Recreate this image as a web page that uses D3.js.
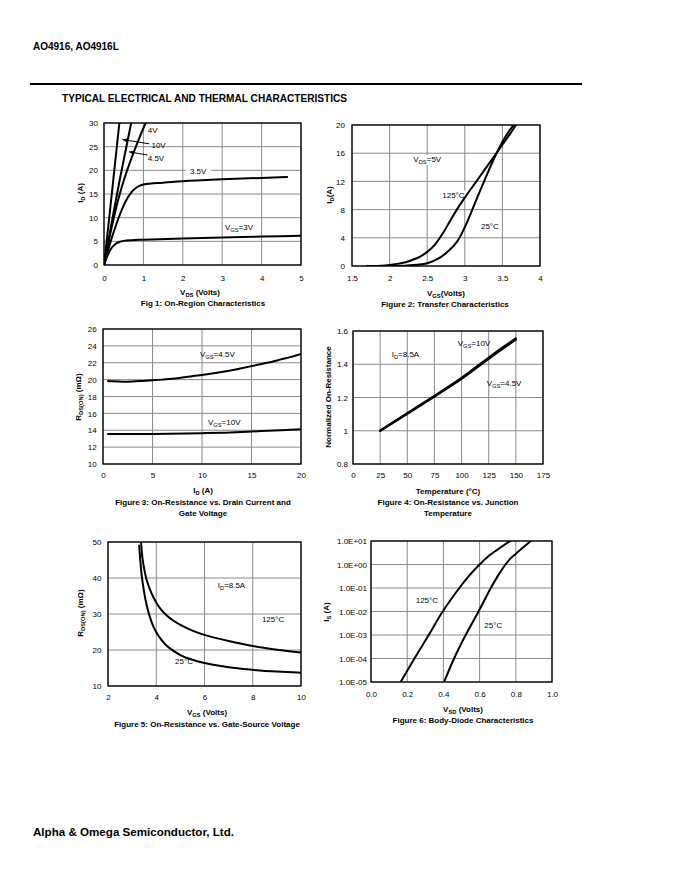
<!DOCTYPE html>
<html>
<head>
<meta charset="utf-8">
<script src="https://cdn.jsdelivr.net/npm/d3@7"></script>
<style>
  html, body { margin: 0; padding: 0; background: #fff; }
  svg { display: block; }
  text { font-family: "Liberation Sans", Arial, sans-serif; fill: #000; }
</style>
</head>
<body>
<svg id="page" width="680" height="880"></svg>
<script>
// ---------------- DATA ----------------
// Fig 1: On-region characteristics (VDS [V], ID [A])
const fig1_vgs10  = [[0,0],[0.1,7.5],[0.2,15.2],[0.3,23],[0.39,30]];
const fig1_vgs45  = [[0,0],[0.1,4.6],[0.2,9.2],[0.3,13.6],[0.4,18],[0.5,22.2],[0.6,26.3],[0.69,30]];
const fig1_vgs4   = [[0,0],[0.1,4.2],[0.2,8.2],[0.3,11.8],[0.4,15],[0.5,17.8],[0.6,20.3],[0.7,22.6],[0.8,24.8],[0.9,26.9],[1.0,28.9],[1.06,30]];
const fig1_vgs35  = [[0,0],[0.1,3],[0.2,5.8],[0.3,8.3],[0.4,10.6],[0.5,12.6],[0.6,14.2],[0.7,15.4],[0.8,16.2],[0.9,16.7],[1.0,17.0],[1.5,17.4],[2,17.7],[3,18.1],[4,18.4],[4.65,18.6]];
const fig1_vgs3   = [[0,0],[0.1,2.2],[0.2,3.7],[0.3,4.5],[0.4,4.9],[0.5,5.1],[0.7,5.25],[1,5.35],[2,5.6],[3,5.8],[4,6.0],[5,6.2]];
const fig1_xTicks = [0,1,2,3,4,5];
const fig1_yTicks = [0,5,10,15,20,25,30];

// Fig 2: Transfer characteristics (VGS [V], ID [A])
const fig2_t125 = [[1.7,0],[1.9,0.05],[2.0,0.15],[2.1,0.3],[2.2,0.5],[2.3,0.85],[2.4,1.3],[2.5,2.0],[2.6,3.0],[2.7,4.5],[2.8,6.3],[2.9,8.1],[3.0,9.7],[3.1,11.2],[3.2,12.7],[3.3,14.2],[3.4,15.7],[3.5,17.2],[3.6,18.7],[3.68,20]];
const fig2_t25  = [[2.0,0],[2.2,0.05],[2.4,0.2],[2.5,0.4],[2.6,0.8],[2.7,1.4],[2.8,2.3],[2.9,3.5],[3.0,5.5],[3.1,8.0],[3.2,10.6],[3.3,13.1],[3.4,15.5],[3.5,17.6],[3.6,19.3],[3.65,20]];
const fig2_xTicks = [1.5,2,2.5,3,3.5,4];
const fig2_yTicks = [0,4,8,12,16,20];

// Fig 3: On-resistance vs drain current (ID [A], RDS(ON) [mOhm])
const fig3_vgs45 = [[0.5,19.85],[1,19.8],[2,19.75],[3,19.78],[4,19.85],[5,19.92],[6,20.0],[7,20.1],[8,20.25],[9,20.4],[10,20.55],[11,20.72],[12,20.9],[13,21.1],[14,21.35],[15,21.6],[16,21.85],[17,22.1],[18,22.4],[19,22.7],[20,23.05]];
const fig3_vgs10 = [[0.5,13.55],[5,13.57],[10,13.65],[12,13.7],[15,13.85],[18,14.0],[20,14.12]];
const fig3_xTicks = [0,5,10,15,20];
const fig3_yTicks = [10,12,14,16,18,20,22,24,26];

// Fig 4: Normalized on-resistance vs temperature
const fig4_vgs10 = [[25,1.0],[50,1.105],[75,1.21],[100,1.318],[125,1.44],[150,1.556]];
const fig4_vgs45 = [[25,1.0],[50,1.102],[75,1.206],[100,1.312],[125,1.433],[150,1.548]];
const fig4_xTicks = [0,25,50,75,100,125,150,175];
const fig4_yTicks = [0.8,1,1.2,1.4,1.6];

// Fig 5: On-resistance vs gate-source voltage (VGS [V], RDS(ON) [mOhm])
const fig5_t25  = [[3.29,49],[3.35,44],[3.4,40.5],[3.5,36],[3.6,32.5],[3.8,27.9],[4.0,24.9],[4.25,22.5],[4.5,20.8],[5,18.6],[5.5,17.3],[6,16.4],[7,15.2],[8,14.5],[9,14.0],[10,13.7]];
const fig5_t125 = [[3.37,50],[3.42,46],[3.5,42.5],[3.6,39.5],[3.8,35.8],[4.0,33.2],[4.2,31.2],[4.4,29.8],[4.7,28.2],[5,27.0],[5.5,25.4],[6,24.2],[7,22.5],[8,21.1],[9,20.1],[10,19.3]];
const fig5_xTicks = [2,4,6,8,10];
const fig5_yTicks = [10,20,30,40,50];

// Fig 6: Body-diode characteristics (VSD [V], IS [A])
const fig6_t125 = [[0.164,1e-5],[0.24,1e-4],[0.319,1e-3],[0.396,1e-2],[0.488,1e-1],[0.545,0.355],[0.6,1.0],[0.65,2.3],[0.7,4.37],[0.769,10]];
const fig6_t25  = [[0.404,1e-5],[0.459,1e-4],[0.523,1e-3],[0.594,1e-2],[0.662,1e-1],[0.7,0.32],[0.741,0.95],[0.77,1.78],[0.8,2.82],[0.84,5.25],[0.883,10]];
const fig6_xTicks = [0,0.2,0.4,0.6,0.8,1.0];
const fig6_yTicks = [1e-5,1e-4,1e-3,1e-2,1e-1,1e0,1e1];
const fig6_yLabels = ["1.0E-05","1.0E-04","1.0E-03","1.0E-02","1.0E-01","1.0E+00","1.0E+01"];

// ---------------- DRAWING ----------------
const svg = d3.select("#page");

function richText(g, x, y, parts, opts = {}) {
  const t = g.append("text")
    .attr("x", x).attr("y", y)
    .attr("font-size", opts.size || 8)
    .attr("font-weight", opts.bold ? "bold" : "normal")
    .attr("text-anchor", opts.anchor || "start");
  if (opts.rotate) t.attr("transform", `rotate(-90,${x},${y})`);
  let inSub = false;
  parts.forEach(p => {
    const sub = typeof p !== "string";
    const s = sub ? p.sub : p;
    const ts = t.append("tspan").text(s);
    if (sub && !inSub) { ts.attr("dy", 2).attr("font-size", (opts.size || 8) * 0.72); inSub = true; }
    else if (sub) { ts.attr("font-size", (opts.size || 8) * 0.72); }
    else if (!sub && inSub) { ts.attr("dy", -2); inSub = false; }
  });
  return t;
}

function whiteBg(g, textSel, pad) {
  const b = textSel.node().getBBox();
  g.insert("rect", () => textSel.node())
    .attr("x", b.x - pad).attr("y", b.y)
    .attr("width", b.width + 2 * pad).attr("height", b.height)
    .attr("fill", "#fff");
}

function chart(cfg) {
  const g = svg.append("g");
  const x = d3.scaleLinear().domain(cfg.xDom).range([cfg.L, cfg.R]);
  const y = (cfg.log ? d3.scaleLog() : d3.scaleLinear()).domain(cfg.yDom).range([cfg.B, cfg.T]);
  const gridG = g.append("g");
  gridG.selectAll(".vx").data(cfg.xTicks).join("line")
    .attr("x1", d => x(d)).attr("x2", d => x(d))
    .attr("y1", cfg.T).attr("y2", cfg.B)
    .attr("stroke", "#8a8a8a").attr("stroke-width", 1);
  gridG.selectAll(".hy").data(cfg.yTicks).join("line")
    .attr("y1", d => y(d)).attr("y2", d => y(d))
    .attr("x1", cfg.L).attr("x2", cfg.R)
    .attr("stroke", "#8a8a8a").attr("stroke-width", 1);
  const xa = d3.axisBottom(x).tickValues(cfg.xTicks).tickSize(0).tickPadding(0)
    .tickFormat(cfg.xFmt || (d => d));
  const xg = g.append("g").attr("transform", `translate(0,${cfg.B + cfg.xTickOff})`).call(xa);
  xg.select(".domain").remove();
  xg.selectAll("text").attr("font-size", 8).attr("dy", 0).attr("y", 0)
    .style("font-family", '"Liberation Sans", Arial, sans-serif').attr("fill", "#000");
  const ya = d3.axisLeft(y).tickValues(cfg.yTicks).tickSize(0).tickPadding(0)
    .tickFormat(cfg.yFmt || (d => d));
  const yg = g.append("g").attr("transform", `translate(${cfg.L - cfg.yTickOff},0)`).call(ya);
  yg.select(".domain").remove();
  yg.selectAll("text").attr("font-size", cfg.yTickSize || 8).attr("x", 0).attr("dy", "0.33em")
    .style("font-family", '"Liberation Sans", Arial, sans-serif').attr("fill", "#000");
  g.selectAll(".tick line").remove();

  const cid = "clip" + Math.random().toString(36).slice(2);
  g.append("clipPath").attr("id", cid).append("rect")
    .attr("x", cfg.L).attr("y", cfg.T).attr("width", cfg.R - cfg.L).attr("height", cfg.B - cfg.T);
  const line = d3.line().x(d => x(d[0])).y(d => y(d[1])).curve(d3.curveMonotoneX);
  const lineN = d3.line().x(d => x(d[0])).y(d => y(d[1])).curve(d3.curveCatmullRom.alpha(0.5));
  const labG = g.append("g");
  const cg = g.append("g").attr("clip-path", `url(#${cid})`);
  cfg.series.forEach(s => {
    cg.append("path").datum(s.data)
      .attr("d", s.mono === false ? lineN(s.data) : line(s.data))
      .attr("fill", "none").attr("stroke", "#000")
      .attr("stroke-width", s.w || 2).attr("stroke-linejoin", "round").attr("stroke-linecap", "round");
  });
  g.append("rect").attr("x", cfg.L).attr("y", cfg.T)
    .attr("width", cfg.R - cfg.L).attr("height", cfg.B - cfg.T)
    .attr("fill", "none").attr("stroke", "#000").attr("stroke-width", 1.3);

  (cfg.labels || []).forEach(l => {
    const t = richText(labG, x(l.x), y(l.y), l.parts, { size: 8, anchor: l.anchor || "start" });
    if (l.bg) whiteBg(labG, t, l.bg);
  });
  (cfg.arrows || []).forEach(a => {
    g.append("line")
      .attr("x1", x(a.from[0])).attr("y1", y(a.from[1]))
      .attr("x2", x(a.to[0])).attr("y2", y(a.to[1]))
      .attr("stroke", "#000").attr("stroke-width", 1).attr("marker-end", "url(#arrowHead)");
  });

  richText(g, cfg.xt[0], cfg.xt[1], cfg.xTitle, { size: 8, bold: true, anchor: "middle" });
  richText(g, cfg.yt[0], cfg.yt[1], cfg.yTitle, { size: 8, bold: true, anchor: "middle", rotate: true });
  cfg.caption.forEach((c, i) => {
    richText(g, cfg.cap[0], cfg.cap[1] + i * 11, [c], { size: 8, bold: true, anchor: "middle" });
  });
  return { x, y };
}

svg.append("defs").append("marker").attr("id", "arrowHead")
  .attr("viewBox", "0 0 10 10").attr("refX", 9).attr("refY", 5)
  .attr("markerWidth", 5).attr("markerHeight", 5).attr("orient", "auto")
  .append("path").attr("d", "M0,1 L10,5 L0,9 Z").attr("fill", "#000");

// header / footer
svg.append("text").attr("x", 33).attr("y", 50).attr("font-size", 10).attr("font-weight", "bold")
  .text("AO4916, AO4916L");
svg.append("line").attr("x1", 30).attr("x2", 582).attr("y1", 84).attr("y2", 84)
  .attr("stroke", "#000").attr("stroke-width", 2);
svg.append("text").attr("x", 62).attr("y", 102).attr("font-size", 10.1).attr("font-weight", "bold")
  .text("TYPICAL ELECTRICAL AND THERMAL CHARACTERISTICS");
svg.append("text").attr("x", 33).attr("y", 836).attr("font-size", 11.6).attr("font-weight", "bold")
  .text("Alpha & Omega Semiconductor, Ltd.");

// Fig 1
chart({
  L: 104, R: 301, T: 123, B: 265, xDom: [0, 5], yDom: [0, 30],
  xTicks: fig1_xTicks, yTicks: fig1_yTicks, xTickOff: 16, yTickOff: 6,
  series: [
    { data: fig1_vgs10, mono: false }, { data: fig1_vgs45, mono: false }, { data: fig1_vgs4, mono: false },
    { data: fig1_vgs35 }, { data: fig1_vgs3 }
  ],
  labels: [
    { x: 1.11, y: 27.8, parts: ["4V"], bg: 1 },
    { x: 1.205, y: 24.8, parts: ["10V"] },
    { x: 1.11, y: 21.9, parts: ["4.5V"] },
    { x: 2.39, y: 19.3, parts: ["3.5V"], anchor: "middle", bg: 4 },
    { x: 3.07, y: 7.4, parts: ["V", { sub: "GS" }, "=3V"] }
  ],
  arrows: [
    { from: [1.15, 25.6], to: [0.47, 26.5] },
    { from: [1.10, 23.24], to: [0.64, 23.9] }
  ],
  xt: [200, 294.5], xTitle: ["V", { sub: "DS" }, " (Volts)"],
  yt: [83, 193], yTitle: ["I", { sub: "D" }, " (A)"],
  cap: [203, 305.5], caption: ["Fig 1: On-Region Characteristics"]
});

// Fig 2
chart({
  L: 352, R: 540, T: 125, B: 266, xDom: [1.5, 4], yDom: [0, 20],
  xTicks: fig2_xTicks, yTicks: fig2_yTicks, xTickOff: 14.5, yTickOff: 7,
  series: [{ data: fig2_t125, mono: false }, { data: fig2_t25, mono: false }],
  labels: [
    { x: 2.316, y: 14.75, parts: ["V", { sub: "DS" }, "=5V"], bg: 3 },
    { x: 2.70, y: 9.65, parts: ["125°C"], bg: 1 },
    { x: 3.215, y: 5.3, parts: ["25°C"] }
  ],
  xt: [446, 295.5], xTitle: ["V", { sub: "GS" }, "(Volts)"],
  yt: [332, 195], yTitle: ["I", { sub: "D" }, "(A)"],
  cap: [445, 306.5], caption: ["Figure 2: Transfer Characteristics"]
});

// Fig 3
chart({
  L: 103, R: 301, T: 329, B: 464, xDom: [0, 20], yDom: [10, 26],
  xTicks: fig3_xTicks, yTicks: fig3_yTicks, xTickOff: 14, yTickOff: 6.3,
  series: [{ data: fig3_vgs45 }, { data: fig3_vgs10 }],
  labels: [
    { x: 9.8, y: 22.7, parts: ["V", { sub: "GS" }, "=4.5V"] },
    { x: 10.6, y: 14.66, parts: ["V", { sub: "GS" }, "=10V"] }
  ],
  xt: [203, 493], xTitle: ["I", { sub: "D" }, " (A)"],
  yt: [81, 397], yTitle: ["R", { sub: "DS(ON)" }, " (mΩ)"],
  cap: [203, 504.5], caption: ["Figure 3: On-Resistance vs. Drain Current and", "Gate Voltage"]
});

// Fig 4
chart({
  L: 353, R: 543, T: 331, B: 464, xDom: [0, 175], yDom: [0.8, 1.6],
  xTicks: fig4_xTicks, yTicks: fig4_yTicks, xTickOff: 14, yTickOff: 5,
  yFmt: d3.format("~g"),
  series: [{ data: fig4_vgs10, w: 2.2 }, { data: fig4_vgs45, w: 2.2 }],
  labels: [
    { x: 35.6, y: 1.444, parts: ["I", { sub: "D" }, "=8.5A"] },
    { x: 96.4, y: 1.512, parts: ["V", { sub: "GS" }, "=10V"] },
    { x: 123.1, y: 1.267, parts: ["V", { sub: "GS" }, "=4.5V"] }
  ],
  xt: [448, 493.5], xTitle: ["Temperature (°C)"],
  yt: [331, 397], yTitle: ["Normalized On-Resistance"],
  cap: [448, 504.5], caption: ["Figure 4: On-Resistance vs. Junction", "Temperature"]
});

// Fig 5
chart({
  L: 108, R: 301, T: 542, B: 686, xDom: [2, 10], yDom: [10, 50],
  xTicks: fig5_xTicks, yTicks: fig5_yTicks, xTickOff: 14, yTickOff: 6.6,
  series: [{ data: fig5_t25, mono: false }, { data: fig5_t125, mono: false }],
  labels: [
    { x: 6.547, y: 37.2, parts: ["I", { sub: "D" }, "=8.5A"] },
    { x: 8.38, y: 27.7, parts: ["125°C"] },
    { x: 4.78, y: 16.2, parts: ["25°C"] }
  ],
  xt: [207, 715], xTitle: ["V", { sub: "GS" }, " (Volts)"],
  yt: [83, 613], yTitle: ["R", { sub: "DS(ON)" }, " (mΩ)"],
  cap: [207, 727], caption: ["Figure 5: On-Resistance vs. Gate-Source Voltage"]
});

// Fig 6
chart({
  L: 371, R: 552, T: 541, B: 682, xDom: [0, 1], yDom: [1e-5, 10], log: true,
  xTicks: fig6_xTicks, yTicks: fig6_yTicks, xTickOff: 15, yTickOff: 4, yTickSize: 8,
  xFmt: d3.format(".1f"), yFmt: d => fig6_yLabels[fig6_yTicks.indexOf(d)],
  series: [{ data: fig6_t125, mono: false }, { data: fig6_t25, mono: false }],
  labels: [
    { x: 0.247, y: Math.pow(10, -1.63), parts: ["125°C"] },
    { x: 0.626, y: Math.pow(10, -2.69), parts: ["25°C"] }
  ],
  xt: [463, 712], xTitle: ["V", { sub: "SD" }, " (Volts)"],
  yt: [329, 612], yTitle: ["I", { sub: "S" }, " (A)"],
  cap: [463, 723], caption: ["Figure 6: Body-Diode Characteristics"]
});
</script>
</body>
</html>
